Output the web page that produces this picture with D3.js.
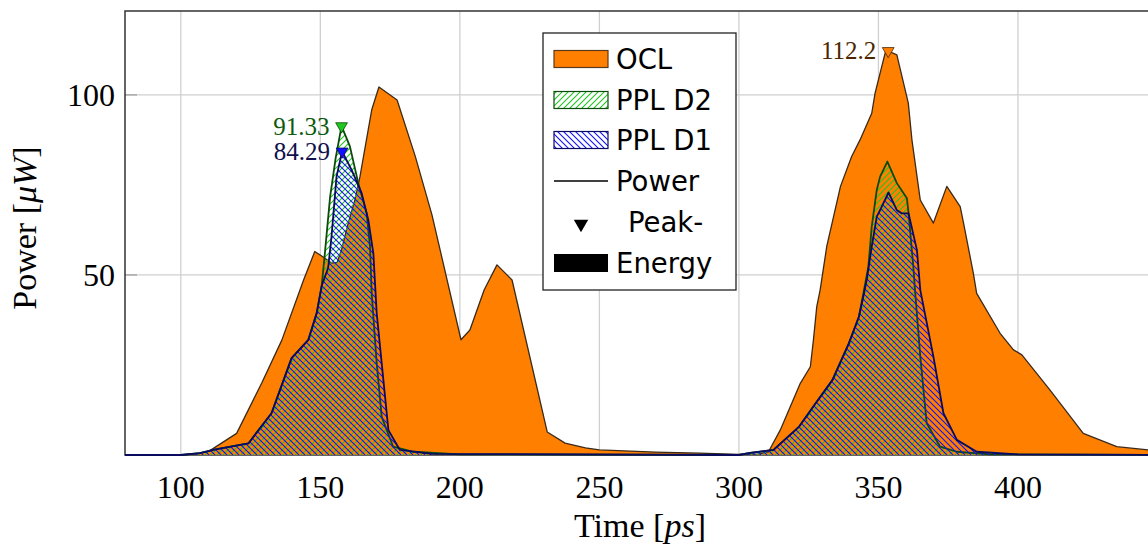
<!DOCTYPE html>
<html>
<head>
<meta charset="utf-8">
<script src="https://d3js.org/d3.v7.min.js"></script>
<style>
  body { margin: 0; background: #fff; }
  .tick-label { font-family: "Liberation Serif", "DejaVu Serif", serif; font-size: 32px; fill: #000; }
  .axis-label { font-family: "Liberation Serif", "DejaVu Serif", serif; font-size: 34px; fill: #000; }
  .legend text { font-family: "DejaVu Sans", sans-serif; font-size: 27.5px; fill: #000; }
  .peak-label { font-family: "Liberation Serif", "DejaVu Serif", serif; font-size: 25px; }
</style>
</head>
<body>
<svg id="chart" width="1148" height="544"></svg>
<script>
// ---- data (time in ps, power in uW)
const oclTime = [80, 100, 105, 110, 120, 129, 136.2, 144, 148, 151, 154, 156, 157.6, 160, 162.4, 164.2, 168.4, 171, 177.5, 184, 190, 200.4, 203.6, 208.7, 213.3, 218.7, 231.3, 237.7, 245, 250, 270, 285.8, 300, 307, 310.6, 314.8, 322, 325.6, 326.7, 327.9, 329.1, 331.5, 336.4, 340.4, 343.4, 347.6, 348.8, 352.4, 353.5, 356.6, 360.7, 362, 365, 369.7, 374.5, 379.3, 380.5, 384, 385.2, 393.6, 398.4, 401.4, 411.5, 423.4, 435.4, 446.7, 460];
const oclPower = [0, 0, 0.3, 1, 6, 20, 31.9, 48.6, 56.5, 55, 53.3, 53.5, 57, 64.4, 70.8, 77.3, 95.8, 102.2, 98.6, 83, 66.7, 32, 34.7, 45.8, 52.8, 48.6, 6.4, 3.3, 2, 1.4, 0.8, 0.5, 0.2, 0.3, 0.9, 6.9, 19.9, 24.5, 31.9, 41.2, 45.8, 58, 74.6, 82.9, 87.5, 94.9, 100.5, 111.6, 112.2, 111.1, 97.7, 87.5, 70.8, 64.4, 74.6, 69, 64.4, 50.5, 44.9, 33.8, 29.2, 27.8, 18, 6, 2.3, 1.4, 1];

const d2Time = [80, 100, 106.9, 112, 124.2, 132.5, 139.7, 145.7, 148.7, 150.5, 151.5, 153.5, 155.5, 157.6, 160.6, 163.6, 166.6, 167.8, 168.4, 170.2, 172, 176.1, 183.3, 200, 300, 304, 312.4, 321.6, 327.5, 333.5, 339.4, 343, 344.6, 346.4, 347.6, 349.4, 350.6, 353.2, 356.6, 360.2, 360.8, 362.5, 363.2, 365, 367.3, 372.1, 378.1, 390, 460];
const d2Power = [0, 0, 0.5, 1.5, 3.2, 11.6, 26.9, 32, 39.4, 47, 55, 71.7, 82.5, 91.33, 85.7, 75.5, 67.1, 57.9, 45, 25.5, 10.6, 2.3, 0.9, 0.2, 0, 0.6, 1.4, 7.9, 14.4, 20.8, 31, 38.4, 44.9, 52.3, 63.4, 73.6, 77.3, 81.5, 75.5, 71.3, 67.1, 52.3, 44.9, 27.3, 8.8, 2.3, 0.9, 0.2, 0];

const d1Time = [80, 100, 106.9, 112, 124.2, 132.5, 139.7, 145.7, 148.7, 150.5, 152.8, 154, 155.8, 157.8, 161.2, 164.8, 167.2, 169, 170.2, 172.6, 174.4, 178.5, 190, 300, 304, 312.4, 321.6, 327.5, 333.5, 339.4, 343, 344.6, 345.8, 347.6, 349.4, 351.2, 353.6, 356.6, 358.4, 360.8, 363.8, 365, 369.7, 373.3, 378.1, 385.2, 400, 460];
const d1Power = [0, 0, 0.5, 1.5, 3.2, 11.6, 26.9, 32, 39.4, 47, 52, 60.6, 77.3, 84.29, 79.2, 72.7, 65.3, 56, 39.4, 20.8, 6.9, 1.4, 0.3, 0, 0.6, 1.4, 7.9, 14.4, 20.8, 31, 38.4, 44, 48.6, 57.9, 66.2, 69, 72.9, 68, 67.1, 67.1, 56.9, 45.8, 27.3, 11.6, 4.2, 0.9, 0.2, 0];

const xTicks = [100, 150, 200, 250, 300, 350, 400];
const yTicks = [50, 100];
const legendLabels = ["OCL", "PPL D2", "PPL D1", "Power", "Peak-", "Energy"];

// ---- layout
const svg = d3.select("svg#chart");
const margin = { top: 11, left: 125, bottom: 455 };
const plotRight = 1160;

const x = d3.scaleLinear().domain([80, 446.6]).range([margin.left, 1148]);
const y = d3.scaleLinear().domain([0, 123.3]).range([margin.bottom, margin.top]);

const defs = svg.append("defs");
defs.append("clipPath").attr("id", "plotClip")
  .append("rect")
  .attr("x", margin.left).attr("y", margin.top - 20)
  .attr("width", plotRight - margin.left).attr("height", margin.bottom - margin.top + 22);

// hatch patterns
function hatch(id, color, dir) {
  const p = defs.append("pattern").attr("id", id)
    .attr("patternUnits", "userSpaceOnUse")
    .attr("width", 6).attr("height", 6);
  if (dir === "ne") {
    p.append("path").attr("d", "M-1,1 l2,-2 M0,6 l6,-6 M5,7 l2,-2");
  } else {
    p.append("path").attr("d", "M-1,5 l2,2 M0,0 l6,6 M5,-1 l2,2");
  }
  p.select("path").attr("stroke", color).attr("stroke-width", 1.1);
}
hatch("hatchGreen", "#22c322", "ne");
hatch("hatchBlue", "#1010ff", "nw");

// gridlines
const grid = svg.append("g").attr("class", "grid");
xTicks.forEach(t => {
  grid.append("line")
    .attr("x1", x(t)).attr("x2", x(t))
    .attr("y1", margin.top).attr("y2", margin.bottom)
    .attr("stroke", "#d0d0d0").attr("stroke-width", 1.3);
});
yTicks.forEach(t => {
  grid.append("line")
    .attr("x1", margin.left).attr("x2", plotRight)
    .attr("y1", y(t)).attr("y2", y(t))
    .attr("stroke", "#d0d0d0").attr("stroke-width", 1.3);
  grid.append("line")
    .attr("x1", margin.left).attr("x2", margin.left + 12)
    .attr("y1", y(t)).attr("y2", y(t))
    .attr("stroke", "#a0a0a0").attr("stroke-width", 1.3);
});

// frame
svg.append("path")
  .attr("d", `M${plotRight},${margin.top} H${margin.left} V${margin.bottom} H${plotRight}`)
  .attr("fill", "none").attr("stroke", "#333").attr("stroke-width", 1.5);

// ---- series
const chartArea = svg.append("g").attr("clip-path", "url(#plotClip)");

function series(times, powers, fill, stroke, strokeWidth) {
  const pts = times.map((t, i) => [t, powers[i]]);
  const area = d3.area().x(d => x(d[0])).y0(y(0)).y1(d => y(d[1]));
  const line = d3.line().x(d => x(d[0])).y(d => y(d[1]));
  chartArea.append("path").attr("d", area(pts)).attr("fill", fill);
  chartArea.append("path").attr("d", line(pts))
    .attr("fill", "none").attr("stroke", stroke)
    .attr("stroke-width", strokeWidth).attr("stroke-linejoin", "round");
  return pts;
}

const oclPts = series(oclTime, oclPower, "#ff8000", "#3a2a1a", 1.3);
const d2Pts = series(d2Time, d2Power, "url(#hatchGreen)", "#0b4a0b", 1.8);
const d1Pts = series(d1Time, d1Power, "url(#hatchBlue)", "#0a0a60", 1.8);

// ---- peak markers and labels
const triangle = d3.symbol().type(d3.symbolTriangle).size(60);

function peak(pts, fill, stroke, textColor) {
  const best = pts.reduce((a, b) => (b[1] > a[1] ? b : a));
  const px = x(best[0]), py = y(best[1]);
  svg.append("path")
    .attr("d", triangle())
    .attr("transform", `translate(${px},${py}) rotate(180)`)
    .attr("fill", fill).attr("stroke", stroke).attr("stroke-width", 0.8);
  svg.append("text")
    .attr("class", "peak-label")
    .attr("x", px - 12).attr("y", py)
    .attr("text-anchor", "end").attr("dominant-baseline", "central")
    .attr("fill", textColor)
    .text(String(best[1]));
}
peak(oclPts, "#ff8000", "#4d2600", "#4d2600");
peak(d2Pts, "#1ec81e", "#0b4a0b", "#0b5a0b");
peak(d1Pts, "#1010ff", "#0a0a60", "#10104d");

// ---- axes labels
xTicks.forEach(t => {
  svg.append("text").attr("class", "tick-label")
    .attr("x", x(t)).attr("y", 498)
    .attr("text-anchor", "middle").text(t);
});
yTicks.forEach(t => {
  svg.append("text").attr("class", "tick-label")
    .attr("x", 115).attr("y", y(t))
    .attr("text-anchor", "end").attr("dominant-baseline", "central").text(t);
});

const xLabel = svg.append("text").attr("class", "axis-label")
  .attr("x", 640).attr("y", 537).attr("text-anchor", "middle");
xLabel.append("tspan").text("Time [");
xLabel.append("tspan").attr("font-style", "italic").text("ps");
xLabel.append("tspan").text("]");

const yLabel = svg.append("text").attr("class", "axis-label")
  .attr("transform", "translate(36,228) rotate(-90)").attr("text-anchor", "middle");
yLabel.append("tspan").text("Power [");
yLabel.append("tspan").attr("font-style", "italic").text("\u03BCW");
yLabel.append("tspan").text("]");

// ---- legend
const legend = svg.append("g").attr("class", "legend");
legend.append("rect")
  .attr("x", 543).attr("y", 33).attr("width", 193).attr("height", 257)
  .attr("fill", "#fff").attr("stroke", "#222").attr("stroke-width", 1.3);

const rowY = [59, 100, 140, 181, 222, 263];
const swX = 554, swW = 54, swH = 17;

// OCL
legend.append("rect").attr("x", swX).attr("y", rowY[0] - swH / 2).attr("width", swW).attr("height", swH)
  .attr("fill", "#ff8000").attr("stroke", "#5a3a1a").attr("stroke-width", 1.2);
// PPL D2
legend.append("rect").attr("x", swX).attr("y", rowY[1] - swH / 2).attr("width", swW).attr("height", swH)
  .attr("fill", "url(#hatchGreen)").attr("stroke", "#0b4a0b").attr("stroke-width", 1.2);
// PPL D1
legend.append("rect").attr("x", swX).attr("y", rowY[2] - swH / 2).attr("width", swW).attr("height", swH)
  .attr("fill", "url(#hatchBlue)").attr("stroke", "#0a0a60").attr("stroke-width", 1.2);
// Power
legend.append("line").attr("x1", swX).attr("x2", swX + swW).attr("y1", rowY[3]).attr("y2", rowY[3])
  .attr("stroke", "#000").attr("stroke-width", 1.4);
// Peak
legend.append("path").attr("d", triangle.size(90)())
  .attr("transform", `translate(${swX + swW / 2},${rowY[4] + 2}) rotate(180)`)
  .attr("fill", "#000");
// Energy
legend.append("rect").attr("x", swX).attr("y", rowY[5] - 9).attr("width", swW).attr("height", 18)
  .attr("fill", "#000");

legendLabels.forEach((lab, i) => {
  legend.append("text")
    .attr("x", i === 4 ? 628 : 616).attr("y", rowY[i])
    .attr("dominant-baseline", "central")
    .text(lab);
});
</script>
</body>
</html>
